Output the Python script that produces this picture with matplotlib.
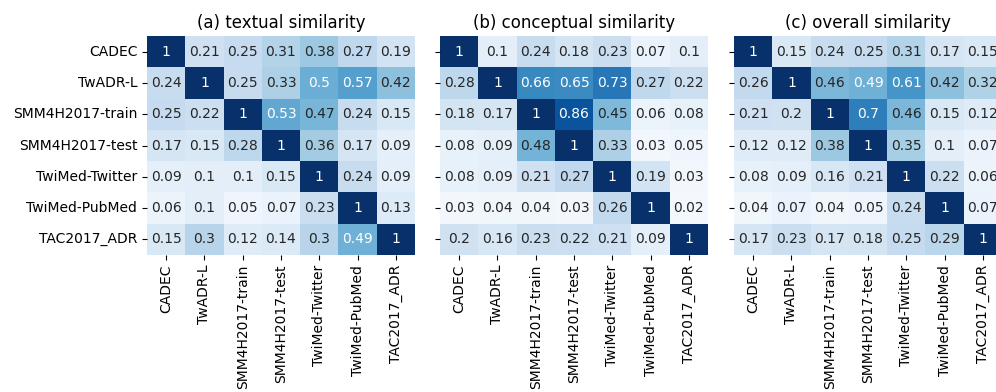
import numpy as np
import seaborn as sns
from matplotlib import pyplot as plt

datasets = ["CADEC", "TwADR-L", "SMM4H2017-train", "SMM4H2017-test",
            "TwiMed-Twitter", "TwiMed-PubMed", "TAC2017_ADR"]

textual = [
    [1, 0.21, 0.25, 0.31, 0.38, 0.27, 0.19],
    [0.24, 1, 0.25, 0.33, 0.5, 0.57, 0.42],
    [0.25, 0.22, 1, 0.53, 0.47, 0.24, 0.15],
    [0.17, 0.15, 0.28, 1, 0.36, 0.17, 0.09],
    [0.09, 0.1, 0.1, 0.15, 1, 0.24, 0.09],
    [0.06, 0.1, 0.05, 0.07, 0.23, 1, 0.13],
    [0.15, 0.3, 0.12, 0.14, 0.3, 0.49, 1],
]

conceptual = [
    [1, 0.1, 0.24, 0.18, 0.23, 0.07, 0.1],
    [0.28, 1, 0.66, 0.65, 0.73, 0.27, 0.22],
    [0.18, 0.17, 1, 0.86, 0.45, 0.06, 0.08],
    [0.08, 0.09, 0.48, 1, 0.33, 0.03, 0.05],
    [0.08, 0.09, 0.21, 0.27, 1, 0.19, 0.03],
    [0.03, 0.04, 0.04, 0.03, 0.26, 1, 0.02],
    [0.2, 0.16, 0.23, 0.22, 0.21, 0.09, 1],
]

overall = [
    [1, 0.15, 0.24, 0.25, 0.31, 0.17, 0.15],
    [0.26, 1, 0.46, 0.49, 0.61, 0.42, 0.32],
    [0.21, 0.2, 1, 0.7, 0.46, 0.15, 0.12],
    [0.12, 0.12, 0.38, 1, 0.35, 0.1, 0.07],
    [0.08, 0.09, 0.16, 0.21, 1, 0.22, 0.06],
    [0.04, 0.07, 0.04, 0.05, 0.24, 1, 0.07],
    [0.17, 0.23, 0.17, 0.18, 0.25, 0.29, 1],
]

titles = ["(a) textual similarity", "(b) conceptual similarity", "(c) overall similarity"]

fig = plt.figure(figsize=(9.96, 3.92), dpi=100)
W, H = 996.0, 392.0
lefts = [147, 440, 734]
width = 268
top, bottom = 36, 255

for i, (mat, title) in enumerate(zip([textual, conceptual, overall], titles)):
    ax = fig.add_axes([lefts[i] / W, 1 - bottom / H, width / W, (bottom - top) / H])
    sns.heatmap(np.array(mat), ax=ax, cmap="Blues", vmin=0, vmax=1, annot=True,
                fmt="g", cbar=False, annot_kws={"size": 10},
                xticklabels=datasets, yticklabels=datasets)
    ax.set_xticklabels(datasets, rotation=90, fontsize=10)
    if i == 0:
        ax.set_yticklabels(datasets, rotation=0, fontsize=10)
    else:
        ax.set_yticklabels([""] * len(datasets))
    ax.set_title(title, fontsize=12)

fig.savefig("out.png", dpi=100)
